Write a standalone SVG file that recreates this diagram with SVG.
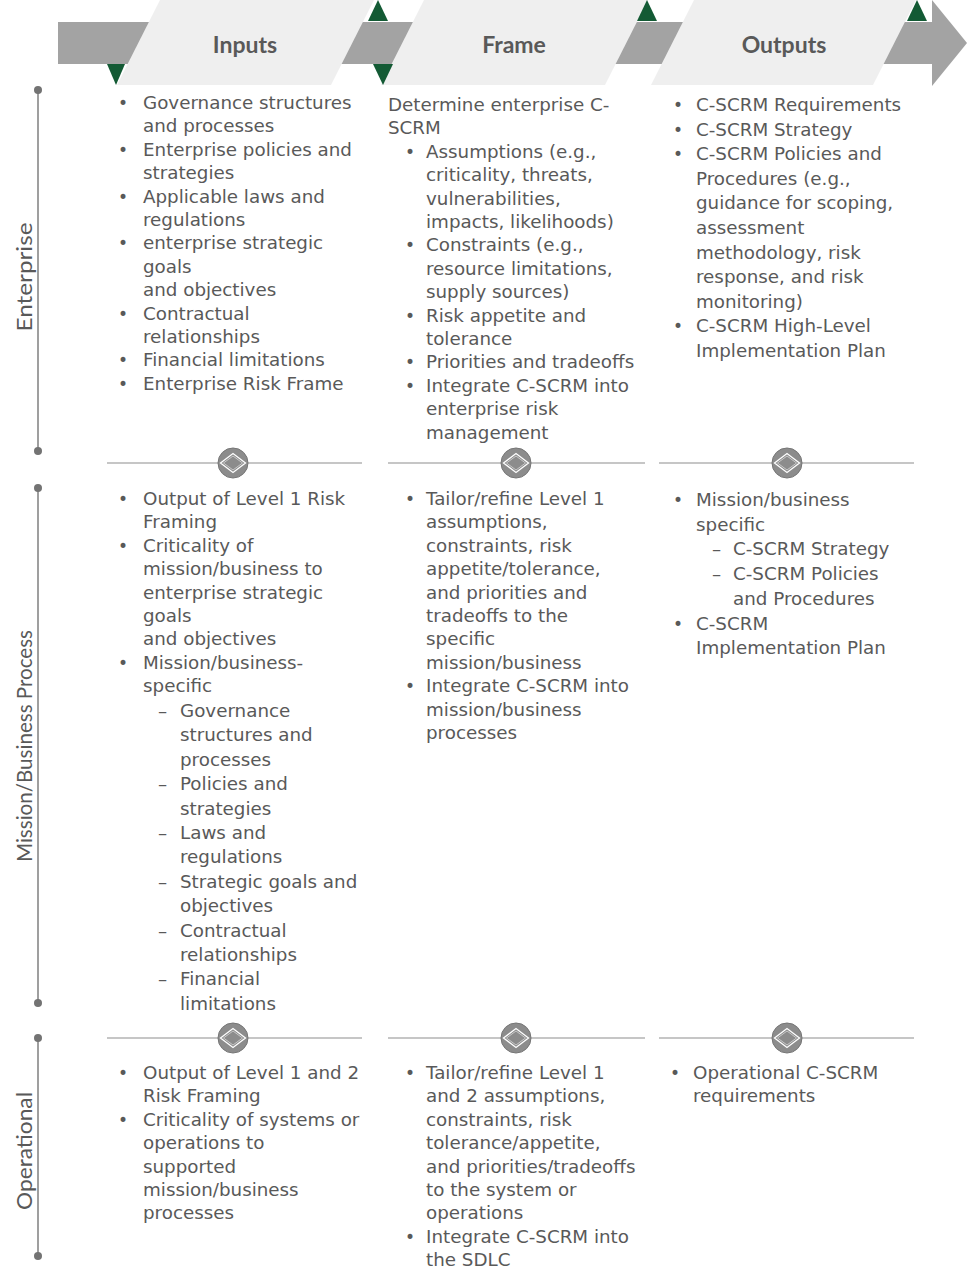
<svg xmlns="http://www.w3.org/2000/svg" width="967" height="1282" viewBox="0 0 967 1282">
<style>
.t{font-family:"DejaVu Sans","Liberation Sans",sans-serif;font-size:18.3px;fill:#595959}
.b{font-family:"DejaVu Sans","Liberation Sans",sans-serif;font-size:17px;fill:#595959}
.h{font-family:Lato,"Liberation Sans",sans-serif;font-size:23px;font-weight:700;fill:#595959;text-anchor:middle}
.lv{font-family:Lato,"Liberation Sans",sans-serif;font-size:21px;fill:#595959;text-anchor:middle}
.lt{fill:#efefef}
.gr{fill:#a3a3a3}
.gn{fill:#135a34}
.sep{stroke:#b3b3b3;stroke-width:1.5}
.ax{stroke:#7f7f7f;stroke-width:1.5}
.dot{fill:#737373}
.cir{fill:#8c8c8c;stroke:#767676;stroke-width:1}
.dia{fill:none;stroke:#ffffff;stroke-width:1.3}
.dia2{fill:none;stroke:#c8c8c8;stroke-width:1}
</style>
<defs>
<g id="knob">
<circle class="cir" cx="0" cy="0" r="15"/>
<polygon class="dia" points="-12.5,0 0,-9.5 12.5,0 0,9.5"/>
<polygon class="dia2" points="-9.5,0 0,-7 9.5,0 0,7"/>
</g>
</defs>

<g id="header">
<rect class="gr" x="58" y="22" width="876" height="42"/>
<polygon class="gr" points="932,0 967,43 932,86"/>
<polygon class="lt" points="160,0 374,0 331,85 117,85"/>
<polygon class="lt" points="424,0 648,0 605,85 381,85"/>
<polygon class="lt" points="694,0 916,0 873,85 651,85"/>
<polygon class="gn" points="378,0 388,21 368,21"/>
<polygon class="gn" points="647,0 657,21 637,21"/>
<polygon class="gn" points="917,0 927,21 907,21"/>
<polygon class="gn" points="107,64 125,64 116,85"/>
<polygon class="gn" points="373,64 393,64 383,85"/>
<text class="h" x="245" y="53">Inputs</text>
<text class="h" x="514" y="53">Frame</text>
<text class="h" x="784" y="53">Outputs</text>
</g>

<g id="axis">
<line class="ax" x1="38" y1="90" x2="38" y2="451"/>
<line class="ax" x1="38" y1="488" x2="38" y2="1003"/>
<line class="ax" x1="38" y1="1038" x2="38" y2="1256"/>
<circle class="dot" cx="38" cy="90" r="4"/>
<circle class="dot" cx="38" cy="451" r="4"/>
<circle class="dot" cx="38" cy="488" r="4"/>
<circle class="dot" cx="38" cy="1003" r="4"/>
<circle class="dot" cx="38" cy="1038" r="4"/>
<circle class="dot" cx="38" cy="1256" r="4"/>
<text class="lv" transform="translate(32,277) rotate(-90)" textLength="109" lengthAdjust="spacingAndGlyphs">Enterprise</text>
<text class="lv" transform="translate(32,746) rotate(-90)" textLength="232" lengthAdjust="spacingAndGlyphs">Mission/Business Process</text>
<text class="lv" transform="translate(32,1151) rotate(-90)" textLength="118" lengthAdjust="spacingAndGlyphs">Operational</text>
</g>

<g id="separators">
<line class="sep" x1="107" y1="463" x2="362" y2="463"/>
<line class="sep" x1="388" y1="463" x2="645" y2="463"/>
<line class="sep" x1="659" y1="463" x2="914" y2="463"/>
<use href="#knob" x="233" y="463"/>
<use href="#knob" x="516" y="463"/>
<use href="#knob" x="787" y="463"/>
<line class="sep" x1="107" y1="1038" x2="362" y2="1038"/>
<line class="sep" x1="388" y1="1038" x2="645" y2="1038"/>
<line class="sep" x1="659" y1="1038" x2="914" y2="1038"/>
<use href="#knob" x="233" y="1038"/>
<use href="#knob" x="516" y="1038"/>
<use href="#knob" x="787" y="1038"/>
</g>

<g id="ent-inputs">
<text class="b" x="118" y="109">•</text>
<text class="b" x="118" y="155.8">•</text>
<text class="b" x="118" y="202.6">•</text>
<text class="b" x="118" y="249.4">•</text>
<text class="b" x="118" y="319.6">•</text>
<text class="b" x="118" y="366.4">•</text>
<text class="b" x="118" y="389.8">•</text>
<text class="t" x="143" y="109">Governance structures</text>
<text class="t" x="143" y="132.4">and processes</text>
<text class="t" x="143" y="155.8">Enterprise policies and</text>
<text class="t" x="143" y="179.2">strategies</text>
<text class="t" x="143" y="202.6">Applicable laws and</text>
<text class="t" x="143" y="226">regulations</text>
<text class="t" x="143" y="249.4">enterprise strategic</text>
<text class="t" x="143" y="272.8">goals</text>
<text class="t" x="143" y="296.2">and objectives</text>
<text class="t" x="143" y="319.6">Contractual</text>
<text class="t" x="143" y="343">relationships</text>
<text class="t" x="143" y="366.4">Financial limitations</text>
<text class="t" x="143" y="389.8">Enterprise Risk Frame</text>
</g>

<g id="ent-frame">
<text class="t" x="388" y="111">Determine enterprise C-</text>
<text class="t" x="388" y="134.4">SCRM</text>
<text class="b" x="405" y="157.8">•</text>
<text class="b" x="405" y="251.4">•</text>
<text class="b" x="405" y="321.6">•</text>
<text class="b" x="405" y="368.4">•</text>
<text class="b" x="405" y="391.8">•</text>
<text class="t" x="426" y="157.8">Assumptions (e.g.,</text>
<text class="t" x="426" y="181.2">criticality, threats,</text>
<text class="t" x="426" y="204.6">vulnerabilities,</text>
<text class="t" x="426" y="228">impacts, likelihoods)</text>
<text class="t" x="426" y="251.4">Constraints (e.g.,</text>
<text class="t" x="426" y="274.8">resource limitations,</text>
<text class="t" x="426" y="298.2">supply sources)</text>
<text class="t" x="426" y="321.6">Risk appetite and</text>
<text class="t" x="426" y="345">tolerance</text>
<text class="t" x="426" y="368.4">Priorities and tradeoffs</text>
<text class="t" x="426" y="391.8">Integrate C-SCRM into</text>
<text class="t" x="426" y="415.2">enterprise risk</text>
<text class="t" x="426" y="438.6">management</text>
</g>

<g id="ent-outputs">
<text class="b" x="673" y="111">•</text>
<text class="b" x="673" y="135.6">•</text>
<text class="b" x="673" y="160.2">•</text>
<text class="b" x="673" y="332.4">•</text>
<text class="t" x="696" y="111">C-SCRM Requirements</text>
<text class="t" x="696" y="135.6">C-SCRM Strategy</text>
<text class="t" x="696" y="160.2">C-SCRM Policies and</text>
<text class="t" x="696" y="184.8">Procedures (e.g.,</text>
<text class="t" x="696" y="209.4">guidance for scoping,</text>
<text class="t" x="696" y="234">assessment</text>
<text class="t" x="696" y="258.6">methodology, risk</text>
<text class="t" x="696" y="283.2">response, and risk</text>
<text class="t" x="696" y="307.8">monitoring)</text>
<text class="t" x="696" y="332.4">C-SCRM High-Level</text>
<text class="t" x="696" y="357">Implementation Plan</text>
</g>

<g id="mis-inputs">
<text class="b" x="118" y="505">•</text>
<text class="b" x="118" y="551.8">•</text>
<text class="b" x="118" y="668.8">•</text>
<text class="t" x="143" y="505">Output of Level 1 Risk</text>
<text class="t" x="143" y="528.4">Framing</text>
<text class="t" x="143" y="551.8">Criticality of</text>
<text class="t" x="143" y="575.2">mission/business to</text>
<text class="t" x="143" y="598.6">enterprise strategic</text>
<text class="t" x="143" y="622">goals</text>
<text class="t" x="143" y="645.4">and objectives</text>
<text class="t" x="143" y="668.8">Mission/business-</text>
<text class="t" x="143" y="692.2">specific</text>
<text class="t" x="158" y="717">–</text>
<text class="t" x="158" y="790.2">–</text>
<text class="t" x="158" y="839">–</text>
<text class="t" x="158" y="887.8">–</text>
<text class="t" x="158" y="936.6">–</text>
<text class="t" x="158" y="985.4">–</text>
<text class="t" x="180" y="717">Governance</text>
<text class="t" x="180" y="741.4">structures and</text>
<text class="t" x="180" y="765.8">processes</text>
<text class="t" x="180" y="790.2">Policies and</text>
<text class="t" x="180" y="814.6">strategies</text>
<text class="t" x="180" y="839">Laws and</text>
<text class="t" x="180" y="863.4">regulations</text>
<text class="t" x="180" y="887.8">Strategic goals and</text>
<text class="t" x="180" y="912.2">objectives</text>
<text class="t" x="180" y="936.6">Contractual</text>
<text class="t" x="180" y="961">relationships</text>
<text class="t" x="180" y="985.4">Financial</text>
<text class="t" x="180" y="1009.8">limitations</text>
</g>

<g id="mis-frame">
<text class="b" x="405" y="505">•</text>
<text class="b" x="405" y="692.2">•</text>
<text class="t" x="426" y="505">Tailor/refine Level 1</text>
<text class="t" x="426" y="528.4">assumptions,</text>
<text class="t" x="426" y="551.8">constraints, risk</text>
<text class="t" x="426" y="575.2">appetite/tolerance,</text>
<text class="t" x="426" y="598.6">and priorities and</text>
<text class="t" x="426" y="622">tradeoffs to the</text>
<text class="t" x="426" y="645.4">specific</text>
<text class="t" x="426" y="668.8">mission/business</text>
<text class="t" x="426" y="692.2">Integrate C-SCRM into</text>
<text class="t" x="426" y="715.6">mission/business</text>
<text class="t" x="426" y="739">processes</text>
</g>

<g id="mis-outputs">
<text class="b" x="673" y="506">•</text>
<text class="b" x="673" y="629.5">•</text>
<text class="t" x="696" y="506">Mission/business</text>
<text class="t" x="696" y="530.7">specific</text>
<text class="t" x="712" y="555.4">–</text>
<text class="t" x="712" y="580.1">–</text>
<text class="t" x="733" y="555.4">C-SCRM Strategy</text>
<text class="t" x="733" y="580.1">C-SCRM Policies</text>
<text class="t" x="733" y="604.8">and Procedures</text>
<text class="t" x="696" y="629.5">C-SCRM</text>
<text class="t" x="696" y="654.2">Implementation Plan</text>
</g>

<g id="op-inputs">
<text class="b" x="118" y="1079">•</text>
<text class="b" x="118" y="1125.8">•</text>
<text class="t" x="143" y="1079">Output of Level 1 and 2</text>
<text class="t" x="143" y="1102.4">Risk Framing</text>
<text class="t" x="143" y="1125.8">Criticality of systems or</text>
<text class="t" x="143" y="1149.2">operations to</text>
<text class="t" x="143" y="1172.6">supported</text>
<text class="t" x="143" y="1196">mission/business</text>
<text class="t" x="143" y="1219.4">processes</text>
</g>

<g id="op-frame">
<text class="b" x="405" y="1079">•</text>
<text class="b" x="405" y="1242.8">•</text>
<text class="t" x="426" y="1079">Tailor/refine Level 1</text>
<text class="t" x="426" y="1102.4">and 2 assumptions,</text>
<text class="t" x="426" y="1125.8">constraints, risk</text>
<text class="t" x="426" y="1149.2">tolerance/appetite,</text>
<text class="t" x="426" y="1172.6">and priorities/tradeoffs</text>
<text class="t" x="426" y="1196">to the system or</text>
<text class="t" x="426" y="1219.4">operations</text>
<text class="t" x="426" y="1242.8">Integrate C-SCRM into</text>
<text class="t" x="426" y="1266.2">the SDLC</text>
</g>

<g id="op-outputs">
<text class="b" x="670" y="1079">•</text>
<text class="t" x="693" y="1079">Operational C-SCRM</text>
<text class="t" x="693" y="1102.4">requirements</text>
</g>

<g id="connectors"></g>
</svg>
